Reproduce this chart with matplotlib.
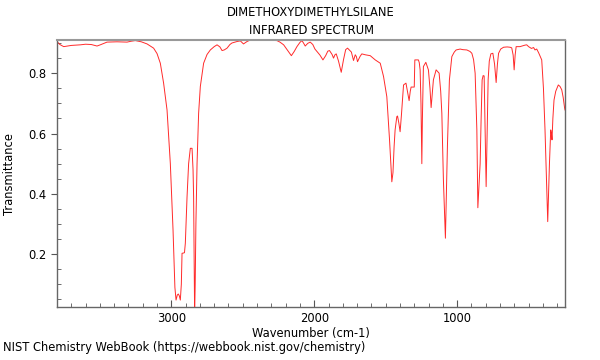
import matplotlib
matplotlib.use("Agg")
import matplotlib.pyplot as plt
from matplotlib.ticker import MultipleLocator

title_lines = ["DIMETHOXYDIMETHYLSILANE", "INFRARED SPECTRUM"]
x_label = "Wavenumber (cm-1)"
y_label = "Transmittance"
footer = "NIST Chemistry WebBook (https://webbook.nist.gov/chemistry)"

wavenumber = [
    3800, 3780, 3753, 3700, 3636, 3600, 3560, 3520, 3497, 3450, 3380, 3310, 3280, 3252, 3210,
    3170, 3124, 3100, 3077, 3054, 3030, 3007, 2988, 2975, 2967, 2958, 2951, 2944, 2937, 2930,
    2925, 2914, 2908, 2902, 2890, 2879, 2867, 2855, 2848, 2844, 2840, 2837, 2833, 2828, 2820,
    2809, 2797, 2774, 2750, 2727, 2700, 2680, 2660, 2645, 2630, 2610, 2590, 2576, 2540, 2517,
    2495, 2470, 2448, 2400, 2300, 2261, 2240, 2214, 2185, 2160, 2140, 2121, 2100, 2086, 2075,
    2063, 2045, 2028, 2010, 1995, 1981, 1960, 1939, 1920, 1905, 1893, 1875, 1865, 1855, 1846,
    1830, 1811, 1795, 1780, 1767, 1750, 1740, 1725, 1713, 1705, 1697, 1680, 1667, 1643, 1608,
    1573, 1538, 1515, 1492, 1473, 1457, 1449, 1441, 1434, 1422, 1417, 1408, 1399, 1390, 1375,
    1358, 1348, 1336, 1328, 1322, 1306, 1300, 1296, 1271, 1265, 1259, 1253, 1247, 1243, 1236,
    1219, 1201, 1190, 1182, 1174, 1166, 1147, 1126, 1115, 1107, 1096, 1082, 1075, 1068, 1054,
    1037, 1020, 1007, 979, 960, 932, 910, 897, 885, 874, 862, 855, 848, 839, 832,
    825, 818, 811, 804, 797, 790, 783, 775, 764, 750, 738, 727, 718, 710, 695,
    675, 650, 630, 618, 608, 601, 594, 587, 560, 540, 525, 513, 500, 480, 465,
    455, 443, 430, 408, 396, 385, 375, 366, 360, 354, 345, 340, 336, 330, 322,
    310, 292, 280, 268, 258, 248, 245,
]
transmittance = [
    0.905, 0.895, 0.888, 0.892, 0.894, 0.896, 0.895, 0.890, 0.894, 0.903, 0.904, 0.903, 0.906, 0.908, 0.904,
    0.897, 0.883, 0.865, 0.833, 0.767, 0.678, 0.501, 0.280, 0.090, 0.048, 0.065, 0.068, 0.062, 0.048, 0.100,
    0.203, 0.204, 0.205, 0.236, 0.390, 0.500, 0.551, 0.551, 0.480, 0.390, 0.150, 0.000, 0.100, 0.300, 0.500,
    0.667, 0.756, 0.833, 0.862, 0.877, 0.888, 0.894, 0.887, 0.875, 0.877, 0.883, 0.895, 0.900, 0.905, 0.907,
    0.897, 0.905, 0.910, 0.910, 0.909, 0.908, 0.903, 0.894, 0.875, 0.858, 0.872, 0.888, 0.902, 0.908, 0.900,
    0.890, 0.899, 0.903, 0.895, 0.880, 0.872, 0.860, 0.844, 0.858, 0.873, 0.875, 0.862, 0.850, 0.861, 0.864,
    0.840, 0.803, 0.845, 0.878, 0.883, 0.875, 0.870, 0.842, 0.861, 0.855, 0.838, 0.855, 0.864, 0.861, 0.858,
    0.844, 0.833, 0.789, 0.722, 0.579, 0.440, 0.470, 0.557, 0.612, 0.656, 0.658, 0.635, 0.606, 0.660, 0.761,
    0.767, 0.740, 0.709, 0.740, 0.754, 0.754, 0.754, 0.844, 0.844, 0.835, 0.811, 0.700, 0.500, 0.650, 0.822,
    0.836, 0.811, 0.750, 0.686, 0.730, 0.778, 0.811, 0.800, 0.740, 0.667, 0.446, 0.253, 0.400, 0.557, 0.778,
    0.855, 0.870, 0.877, 0.880, 0.878, 0.877, 0.872, 0.866, 0.845, 0.800, 0.612, 0.354, 0.420, 0.500, 0.650,
    0.778, 0.792, 0.791, 0.600, 0.424, 0.600, 0.778, 0.840, 0.864, 0.866, 0.830, 0.769, 0.830, 0.866, 0.880,
    0.886, 0.887, 0.886, 0.884, 0.860, 0.811, 0.860, 0.888, 0.888, 0.891, 0.893, 0.894, 0.888, 0.882, 0.885,
    0.877, 0.880, 0.868, 0.844, 0.750, 0.612, 0.450, 0.308, 0.400, 0.500, 0.612, 0.600, 0.579, 0.650, 0.711,
    0.740, 0.761, 0.756, 0.745, 0.720, 0.685, 0.678,
]

FS = 8.3

fig = plt.figure(figsize=(6, 3.6), dpi=100)
ax = fig.add_axes([0.095, 0.1464, 0.8467, 0.7425])
ax.plot(wavenumber, transmittance, color="#ff2a2a", lw=0.7)

ax.set_xlim(3800, 245)
ax.set_ylim(0.024, 0.91)

ax.xaxis.set_major_locator(MultipleLocator(1000))
ax.xaxis.set_minor_locator(MultipleLocator(100))
ax.yaxis.set_major_locator(MultipleLocator(0.2))
ax.yaxis.set_minor_locator(MultipleLocator(0.05))
ax.tick_params(axis="x", which="major", direction="in", length=5, color="#555555", labelsize=FS)
ax.tick_params(axis="x", which="minor", direction="in", length=3, color="#555555")
ax.tick_params(axis="y", which="major", direction="out", length=4, color="#555555", labelsize=FS)
ax.tick_params(axis="y", which="minor", direction="in", length=3, color="#555555")

for s in ax.spines.values():
    s.set_color("#666666")
    s.set_linewidth(1.0)
ax.spines["top"].set_color("#999999")
ax.spines["top"].set_linewidth(1.5)

ax.set_xlabel(x_label, fontsize=FS)
ax.xaxis.set_label_coords(0.5, -0.075, transform=ax.transAxes)
ax.xaxis.label.set_va("top")
ax.set_ylabel(y_label, fontsize=FS)
ax.yaxis.set_label_coords(-0.08, 0.5)
ax.set_title("\n".join(title_lines), fontsize=FS, linespacing=1.5, pad=4)
fig.text(0.005, 0.018, footer, fontsize=FS, ha="left", va="bottom")

fig.savefig("out.png", dpi=100)
